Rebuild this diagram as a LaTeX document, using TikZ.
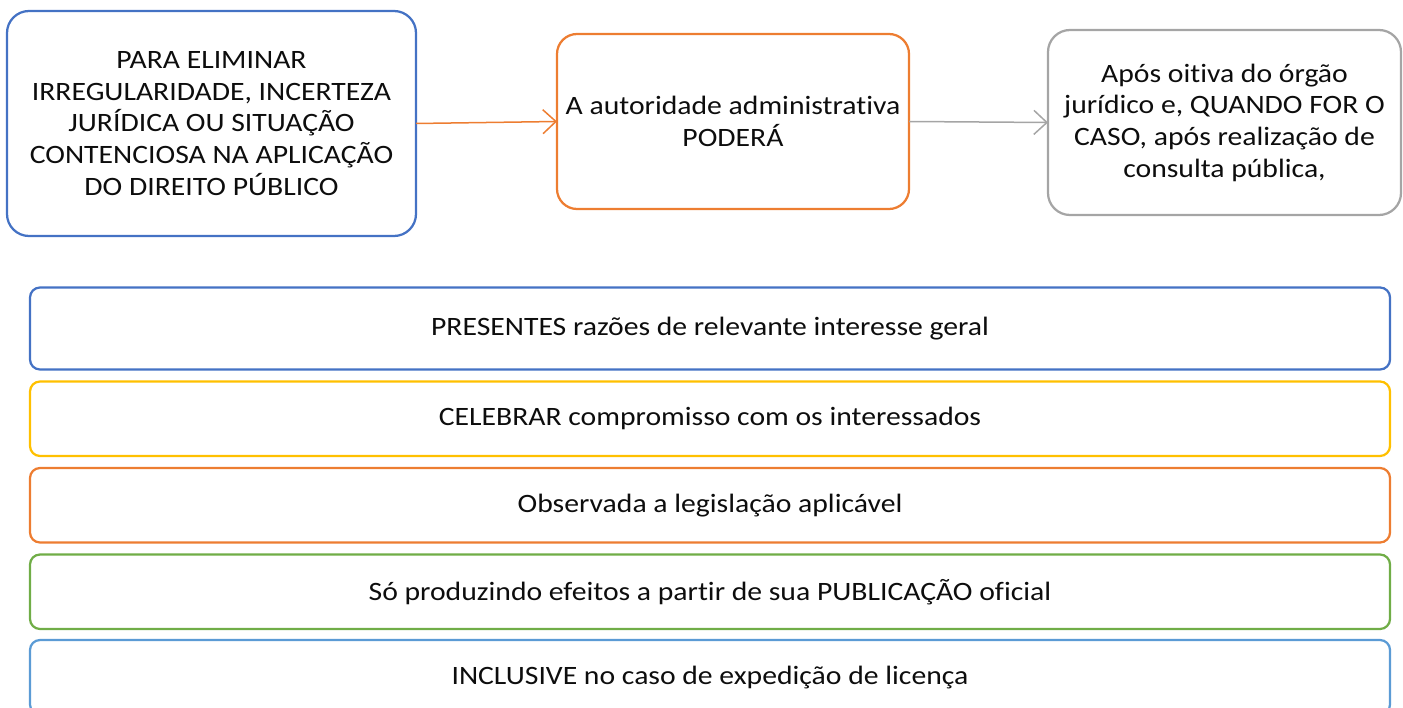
\documentclass[tikz,border=0pt]{standalone}
\usepackage{fontspec}
\setmainfont{Carlito}[FakeStretch=1.12,Ligatures=NoCommon]
\usepackage{tikz}
\usetikzlibrary{arrows.meta,positioning}
\definecolor{oblue}{HTML}{4472C4}
\definecolor{ogold}{HTML}{FFC000}
\definecolor{oorange}{HTML}{ED7D31}
\definecolor{ogreen}{HTML}{70AD47}
\definecolor{olight}{HTML}{5B9BD5}
\definecolor{ogray}{HTML}{A5A5A5}
\definecolor{ink}{HTML}{0D0D0D}

\begin{document}
\begin{tikzpicture}[x=1pt,y=-1pt,font=\fontsize{26.5}{31.7}\selectfont,node distance=12pt,
  s/.style={draw=#1,line width=2.25pt,rounded corners=22pt,align=center,text=ink,inner sep=0pt,outer sep=0pt},
  r/.style={draw=#1,line width=2.25pt,rounded corners=10pt,minimum width=1360pt,minimum height=74.5pt,text=ink,inner sep=0pt,outer sep=0pt},
  a/.style={-{Straight Barb[length=13pt,width=24pt,line width=1.5pt]},line width=1.5pt,color=#1}]
  \useasboundingbox (0,0) rectangle (1403,708);
  \clip (0,0) rectangle (1403,708);
  \node[s=oblue,minimum width=409pt,minimum height=225pt] (n1) at (211.5,123.5) {PARA ELIMINAR\\IRREGULARIDADE, INCERTEZA\\JURÍDICA OU SITUAÇÃO\\CONTENCIOSA NA APLICAÇÃO\\DO DIREITO PÚBLICO};
  \node[s=oorange,minimum width=352pt,minimum height=175pt,rounded corners=20pt] (n2) at (733,121.5) {A autoridade administrativa\\PODERÁ};
  \node[s=ogray,minimum width=353pt,minimum height=185pt] (n3) at (1224.5,122.5) {Após oitiva do órgão\\jurídico e, QUANDO FOR O\\CASO, após realização de\\consulta pública,};
  \foreach \i/\j/\c in {n1/n2/oorange,n2/n3/ogray} \draw[a=\c] (\i.east)--(\j.west);
  \node[r=oblue,minimum height=82pt] (b1) at (710,328.5) {PRESENTES razões de relevante interesse geral};
  \node[r=ogold,below=of b1] (b2) {CELEBRAR compromisso com os interessados};
  \node[r=oorange,below=of b2] (b3) {Observada a legislação aplicável};
  \node[r=ogreen,below=of b3] (b4) {Só produzindo efeitos a partir de sua PUBLICAÇÃO oficial};
  \node[r=olight,below=11pt of b4] (b5) {INCLUSIVE no caso de expedição de licença};
\end{tikzpicture}
\end{document}
